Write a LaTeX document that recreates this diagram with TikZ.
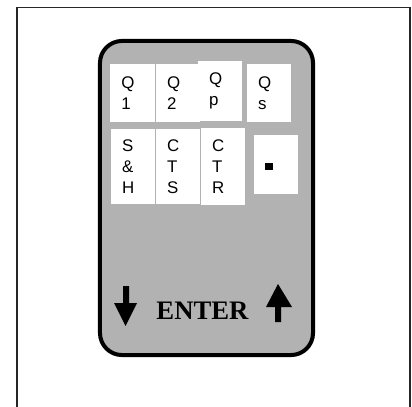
\documentclass[tikz,border=0pt]{standalone}
\usepackage{fontspec}
\setmainfont{Liberation Serif}
\setsansfont{Liberation Sans}
\tikzset{
    keycap/.style={fill=white, inner xsep=0.275cm, inner ysep=0pt, text width=0.55cm,
        align=left, font=\sffamily\fontsize{12}{15}\selectfont},
    toprow/.style={keycap, minimum height=1.45cm},
    lowrow/.style={keycap, minimum height=1.875cm}
}
\begin{document}
\begin{tikzpicture}[x=0.025cm, y=-0.025cm]
    \useasboundingbox (0,0) rectangle (412,406);

    % outer frame (open at the bottom)
    \draw[line width=1.4pt, black!85] (17,420) -- (17,7.5) -- (410,7.5) -- (410,420);

    % handset body
    \node[draw, line width=2.85pt, fill=black!30, rounded corners=0.55cm,
        minimum width=5.325cm, minimum height=7.85cm] (body) at (206.5,198) {};

    % first row of keys
    \node[toprow] (q1) at (132.5,93) {Q\\1};
    \node[toprow] (q2) at (178,93) {Q\\2};
    \node[toprow, minimum height=1.5cm] (qp) at (220,91) {Q\\p};
    \node[toprow] (qs) at (269,93) {Q\\s};

    % second row of keys
    \node[lowrow] (sh) at (133,166.5) {S\\\&\\H};
    \node[lowrow] (cts) at (178,166.5) {C\\T\\S};
    \node[lowrow, minimum height=1.925cm] (ctr) at (223,166.5) {C\\T\\R};
    \node[fill=white, minimum width=1.1cm, minimum height=1.475cm] (dot) at (276,164.5) {};
    \fill (dot.center) ++(-11,-1.5) rectangle ++(8,7);

    % enter label with the two arrows
    \node[inner sep=0pt, font=\bfseries\fontsize{19}{22}\selectfont] (enter) at (202.5,311) {ENTER};
    % down arrow
    \fill (123,286) -- (129,286) -- (129,303) -- (137,303) -- (125.5,326)
        -- (114,303) -- (123,303) -- cycle;
    % up arrow
    \fill (278,284) -- (292,307) -- (281,307) -- (281,322) -- (275,322)
        -- (275,307) -- (266,307) -- cycle;
\end{tikzpicture}
\end{document}
